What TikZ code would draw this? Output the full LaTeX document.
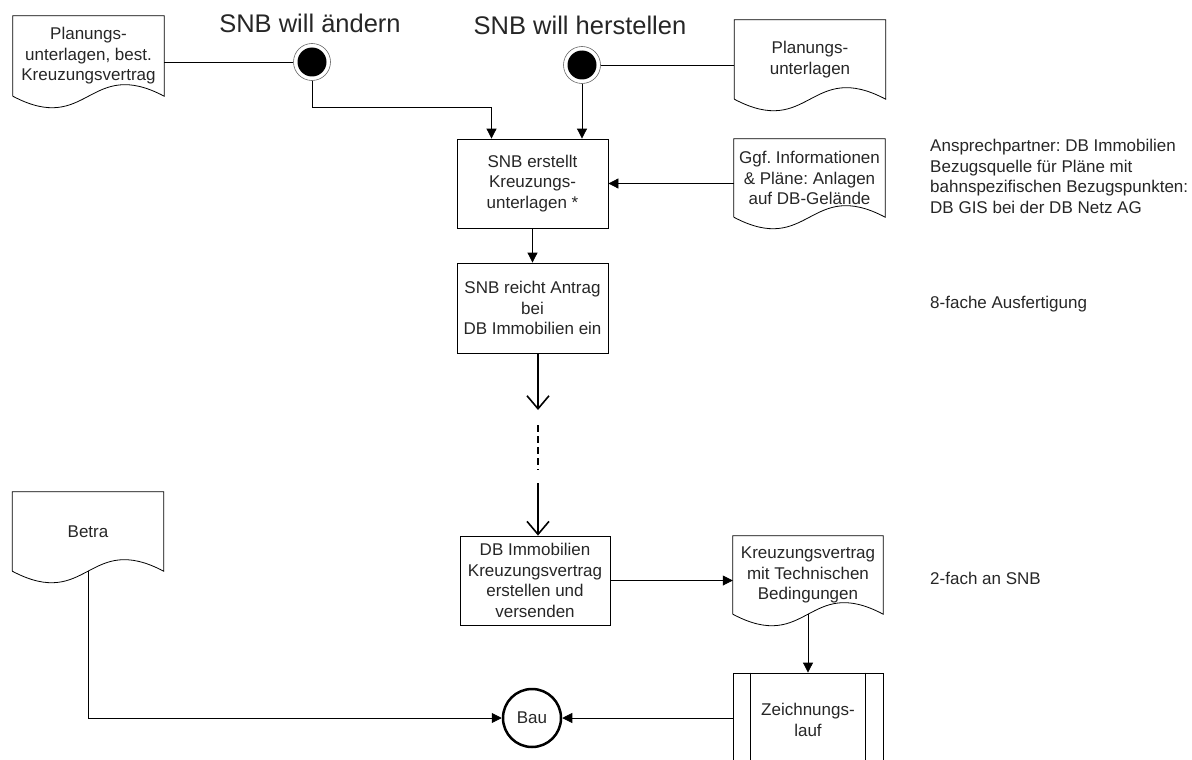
\documentclass[tikz,border=0pt]{standalone}
\usepackage{fontspec}
\setmainfont{Liberation Sans}
\usetikzlibrary{arrows.meta}
\frenchspacing

\begin{document}
\begin{tikzpicture}[x=1pt,y=-1pt]

\def\docw{151pt}
\def\docoutline#1{\path[link] (#1.south west) -- (#1.north west) -- (#1.north east) -- (#1.south east)
    .. controls ([yshift=40pt]#1.south) and ([yshift=-40pt]#1.south) .. (#1.south west);}

\tikzset{
    every node/.style={font=\fontsize{17}{20.5}\selectfont, align=center, text=black!85},
    wire/.style={draw, line width=0.8pt, -{Triangle[length=10pt,width=10pt]}},
    link/.style={draw, line width=0.8pt},
    flow/.style={draw, line width=1.6pt, -{Straight Barb[length=13pt,width=22pt]}},
    gapline/.style={draw, line width=1.6pt, dash pattern=on 7pt off 4pt},
    process/.style={draw, line width=0.8pt, minimum width=\docw, minimum height=89pt, inner sep=2pt},
    docbox/.style={minimum width=\docw, minimum height=79pt, inner sep=2pt},
    start/.style={circle, draw=black!60, line width=0.6pt, minimum size=37pt, inner sep=0pt,
        path picture={\fill[black] (path picture bounding box.center) circle (14.5pt);}},
    finish/.style={circle, draw, line width=2.5pt, minimum size=58pt, inner sep=0pt},
    title/.style={font=\fontsize{25.5}{30}\selectfont},
    note/.style={anchor=north west, align=left, inner sep=0pt}
}

\useasboundingbox (0,0) rectangle (1192,760);

\node[docbox, minimum height=80pt] (plan best) at (88.5,56) {Planungs-\\unterlagen, best.\\Kreuzungsvertrag};
\node[start] (start change) at (312,62) {};
\node[title] (title change) at (310,23) {SNB will ändern};
\node[start] (start build) at (582,65) {};
\node[title] (title build) at (580,25) {SNB will herstellen};
\node[docbox] (plan) at (810,59.5) {Planungs-\\unterlagen};

\node[process] (create) at (532.5,183.5) {SNB erstellt\\Kreuzungs-\\unterlagen *};
\node[docbox, minimum height=78pt] (info) at (809.5,178) {Ggf. Informationen\\\& Pläne: Anlagen\\auf DB-Gelände};
\node[process, minimum height=90pt] (apply) at (532.5,308) {SNB reicht Antrag\\bei\\DB Immobilien ein};

\node[process, minimum width=150pt] (contract) at (535,580.5) {DB Immobilien\\Kreuzungsvertrag\\erstellen und\\versenden};
\node[docbox, minimum width=150pt, minimum height=78pt] (tech) at (808,575) {Kreuzungsvertrag\\mit Technischen\\Bedingungen};
\node[process, minimum width=150pt, minimum height=94pt] (signing) at (808,720) {Zeichnungs-\\lauf};
\node[finish] (bau) at (532,718) {Bau};
\node[docbox] (betra) at (88,531.5) {Betra};

\node[note] (contact) at (930,139) {Ansprechpartner: DB Immobilien\\Bezugsquelle für Pläne mit\\bahnspezifischen Bezugspunkten:\\DB GIS bei der DB Netz AG};
\node[note] (copies) at (930,296) {8-fache Ausfertigung};
\node[note] (twice) at (930,572) {2-fach an SNB};

% document shapes
\docoutline{plan best}
\docoutline{plan}
\docoutline{info}
\docoutline{tech}
\docoutline{betra}

% predefined process bars
\path[link] ([xshift=18pt]signing.north west) -- ([xshift=18pt]signing.south west);
\path[link] ([xshift=-18pt]signing.north east) -- ([xshift=-18pt]signing.south east);

\path[link] (start change.west) -- (start change.west -| plan best.east);
\path[link] (start build.east) -- (start build.east -| plan.west);
\path[wire] (start change.south) -- ++(0,26.5) -| ([xshift=-41pt]create.north);
\path[wire] (start build.south) -- (start build.south |- create.north);
\path[wire] (create.east -| info.west) -- (create.east);
\path[wire] (create) -- (apply);

\coordinate (gap top) at (538,410);
\coordinate (gap bottom) at (538,483);
\path[flow] (apply.south -| gap top) -- (gap top);
\path[gapline] ([yshift=-15pt]gap top) -- ([yshift=13pt]gap bottom);
\path[flow] (gap bottom) -- (gap bottom |- contract.north);

\path[wire] (contract.east) -- (contract.east -| tech.west);
\path[wire] (tech.south) -- (signing.north);
\path[wire] (signing.west |- bau.east) -- (bau.east);
\path[wire] (betra.south) |- (bau.west);

\end{tikzpicture}
\end{document}
